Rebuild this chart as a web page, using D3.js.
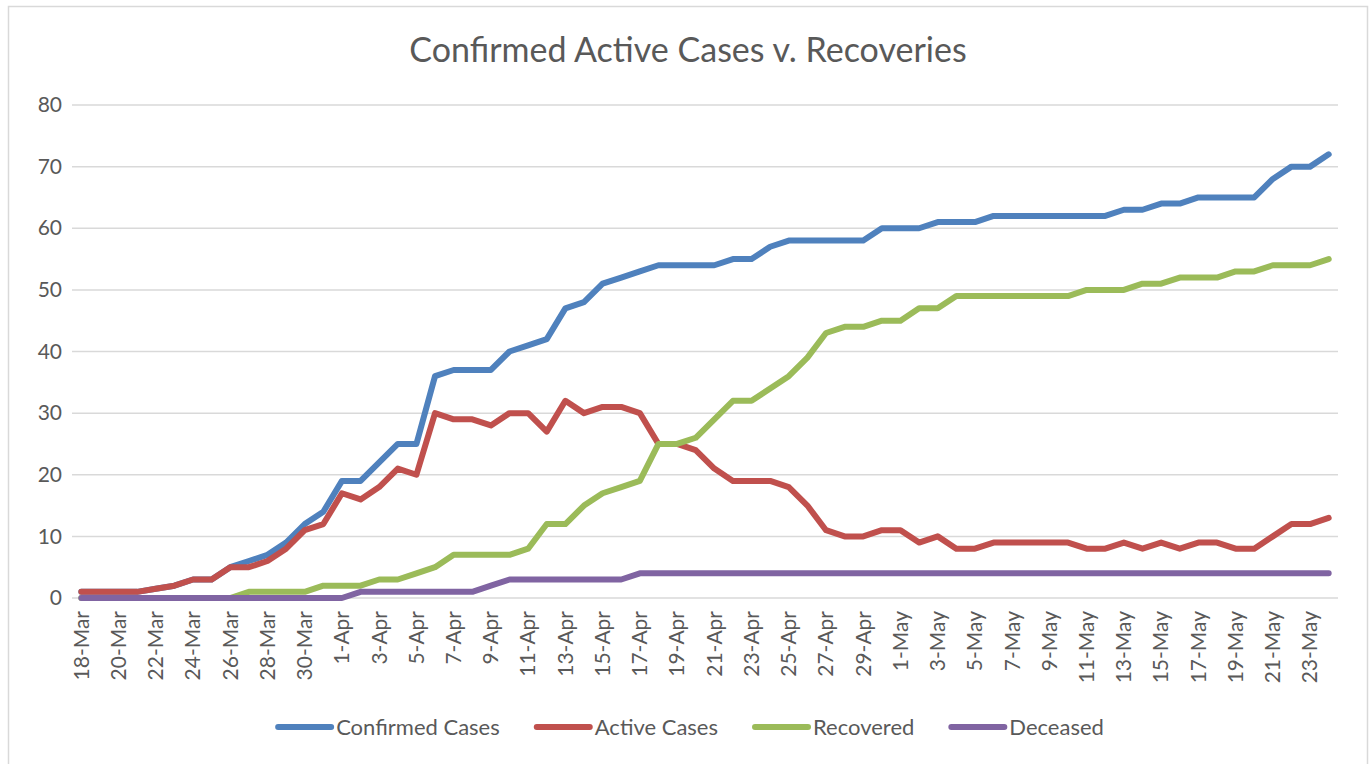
<!DOCTYPE html>
<html>
<head>
<meta charset="utf-8">
<script src="https://cdn.jsdelivr.net/npm/d3@7/dist/d3.min.js"></script>
<style>
  body { margin: 0; background: #fff; }
  text { font-family: Lato, "Open Sans", sans-serif; fill: #595959; }
</style>
</head>
<body>
<svg class="chart"></svg>
<script>
var dates = ["18-Mar","19-Mar","20-Mar","21-Mar","22-Mar","23-Mar","24-Mar","25-Mar","26-Mar","27-Mar",
  "28-Mar","29-Mar","30-Mar","31-Mar","1-Apr","2-Apr","3-Apr","4-Apr","5-Apr","6-Apr",
  "7-Apr","8-Apr","9-Apr","10-Apr","11-Apr","12-Apr","13-Apr","14-Apr","15-Apr","16-Apr",
  "17-Apr","18-Apr","19-Apr","20-Apr","21-Apr","22-Apr","23-Apr","24-Apr","25-Apr","26-Apr",
  "27-Apr","28-Apr","29-Apr","30-Apr","1-May","2-May","3-May","4-May","5-May","6-May",
  "7-May","8-May","9-May","10-May","11-May","12-May","13-May","14-May","15-May","16-May",
  "17-May","18-May","19-May","20-May","21-May","22-May","23-May","24-May"];

var confirmed = [1,1,1,1,1.5,2,3,3,5,6,
  7,9,12,14,19,19,22,25,25,36,
  37,37,37,40,41,42,47,48,51,52,
  53,54,54,54,54,55,55,57,58,58,
  58,58,58,60,60,60,61,61,61,62,
  62,62,62,62,62,62,63,63,64,64,
  65,65,65,65,68,70,70,72];

var active = [1,1,1,1,1.5,2,3,3,5,5,
  6,8,11,12,17,16,18,21,20,30,
  29,29,28,30,30,27,32,30,31,31,
  30,25,25,24,21,19,19,19,18,15,
  11,10,10,11,11,9,10,8,8,9,
  9,9,9,9,8,8,9,8,9,8,
  9,9,8,8,10,12,12,13];

var recovered = [0,0,0,0,0,0,0,0,0,1,
  1,1,1,2,2,2,3,3,4,5,
  7,7,7,7,8,12,12,15,17,18,
  19,25,25,26,29,32,32,34,36,39,
  43,44,44,45,45,47,47,49,49,49,
  49,49,49,49,50,50,50,51,51,52,
  52,52,53,53,54,54,54,55];

var deceased = [0,0,0,0,0,0,0,0,0,0,
  0,0,0,0,0,1,1,1,1,1,
  1,1,2,3,3,3,3,3,3,3,
  4,4,4,4,4,4,4,4,4,4,
  4,4,4,4,4,4,4,4,4,4,
  4,4,4,4,4,4,4,4,4,4,
  4,4,4,4,4,4,4,4];

var seriesNames = ["Confirmed Cases", "Active Cases", "Recovered", "Deceased"];
var seriesColors = ["#4F81BD", "#C0504D", "#9BBB59", "#8064A2"];
var yTicks = [0, 10, 20, 30, 40, 50, 60, 70, 80];

var series = [confirmed, active, recovered, deceased];

var width = 1371, height = 764;
var margin = {top: 105, right: 33, bottom: 166, left: 72};
var chartWidth = width - margin.left - margin.right;
var chartHeight = height - margin.top - margin.bottom;

var svg = d3.select(".chart").attr("width", width).attr("height", height);

// outer frame
svg.append("rect")
  .attr("x", 8.5).attr("y", 6.5)
  .attr("width", 1359).attr("height", 780)
  .attr("fill", "none").attr("stroke", "#D9D9D9").attr("stroke-width", 1.5);

svg.append("text")
  .attr("x", 688).attr("y", 62)
  .attr("text-anchor", "middle")
  .style("font-size", "34px")
  .text("Confirmed Active Cases v. Recoveries");

var chart = svg.append("g").attr("transform", "translate(" + margin.left + "," + margin.top + ")");

var x = d3.scaleBand().domain(dates).range([0, chartWidth]);
var y = d3.scaleLinear().domain([0, 80]).range([chartHeight, 0]);

// gridlines
chart.append("g")
  .selectAll("line")
  .data(yTicks)
  .enter().append("line")
  .attr("x1", 0).attr("x2", chartWidth)
  .attr("y1", function(d) { return y(d); })
  .attr("y2", function(d) { return y(d); })
  .attr("stroke", "#D9D9D9").attr("stroke-width", 1.5);

// y axis
var yAxis = chart.append("g")
  .call(d3.axisLeft(y).tickValues(yTicks).tickSize(0).tickPadding(10));
yAxis.select(".domain").remove();
yAxis.selectAll("text").style("font-size", "21px").attr("fill", "#595959").style("font-family", null);

// x axis
var xAxis = chart.append("g")
  .attr("transform", "translate(0," + chartHeight + ")")
  .call(d3.axisBottom(x)
    .tickValues(dates.filter(function(d, i) { return i % 2 === 0; }))
    .tickSize(0));
xAxis.select(".domain").remove();
xAxis.selectAll("text")
  .style("font-size", "21px").attr("fill", "#595959").style("font-family", null)
  .attr("transform", "rotate(-90)")
  .attr("text-anchor", "end")
  .attr("x", -13).attr("y", 0).attr("dy", "0.35em");

var valueLine = d3.line()
  .x(function(d, i) { return x(dates[i]) + x.bandwidth() / 2; })
  .y(function(d) { return y(d); });

series.forEach(function(s, k) {
  chart.append("path")
    .datum(s)
    .attr("d", valueLine)
    .attr("fill", "none")
    .attr("stroke", seriesColors[k])
    .attr("stroke-width", 6)
    .attr("stroke-linejoin", "round")
    .attr("stroke-linecap", "round");
});

// legend
var legend = svg.append("g").attr("transform", "translate(0,727)");
var items = legend.selectAll("g")
  .data(seriesNames)
  .enter().append("g");
items.append("line")
  .attr("x1", 0).attr("x2", 53)
  .attr("stroke", function(d, i) { return seriesColors[i]; })
  .attr("stroke-width", 6)
  .attr("stroke-linecap", "round");
items.append("text")
  .attr("x", 58).attr("dy", "0.35em")
  .style("font-size", "22px")
  .text(function(d) { return d; });

var widths = [];
items.each(function() { widths.push(this.getBBox().width); });
var gap = 37;
var total = d3.sum(widths) + gap * (widths.length - 1);
var pos = 691 - total / 2;
items.attr("transform", function(d, i) {
  var t = "translate(" + pos + ",0)";
  pos += widths[i] + gap;
  return t;
});
</script>
</body>
</html>
